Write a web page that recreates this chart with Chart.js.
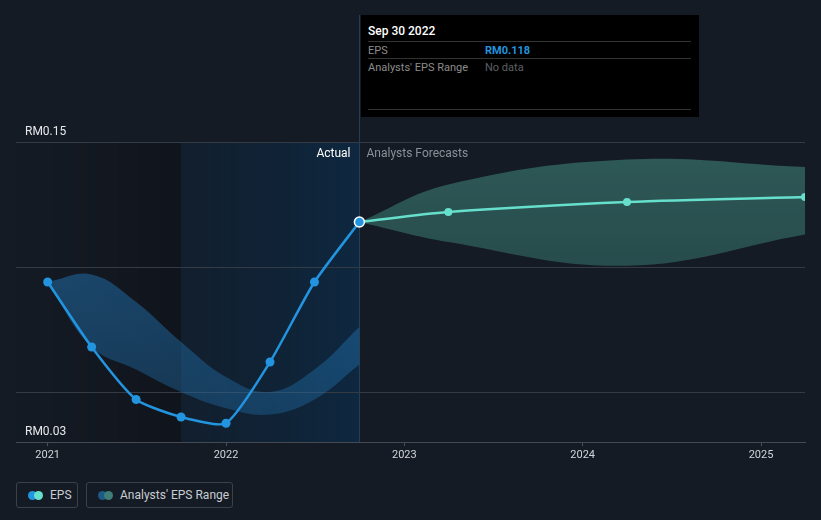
<!DOCTYPE html>
<html>
<head>
<meta charset="utf-8">
<script src="https://cdn.jsdelivr.net/npm/chart.js@4.4.0/dist/chart.umd.min.js"></script>
<style>
  html, body { margin: 0; padding: 0; background: #151b25; }
  body { width: 821px; height: 520px; position: relative; overflow: hidden; font-family: Roboto, "Noto Sans", sans-serif; }
  #wrap { position: absolute; left: 0; top: 0; width: 821px; height: 470px; }
  #tip { position: absolute; left: 361px; top: 15px; width: 338px; height: 102px; background: #000; color: #fff; }
  #tip .title { position: absolute; left: 7px; top: 9px; font-size: 12px; font-weight: 500; }
  #tip .sep { position: absolute; left: 7px; width: 323px; height: 1px; background: #333; }
  #tip .row { position: absolute; left: 7px; font-size: 11px; color: #8c8c8c; }
  #tip .val { position: absolute; left: 124px; font-size: 11px; }
  .legend { position: absolute; top: 482px; height: 26px; border: 1px solid #3c4048; border-radius: 3px; box-sizing: border-box; font-size: 12px; color: #c9ccd1; line-height: 25px; }
  .legend .dots { position: absolute; left: 11px; top: 8px; width: 16px; height: 9px; }
  .legend .dots span { position: absolute; top: 0; width: 9px; height: 9px; border-radius: 50%; }
  .legend .txt { position: absolute; }
</style>
</head>
<body>
<div id="wrap"><canvas id="chart"></canvas></div>

<div id="tip">
  <div class="title">Sep 30 2022</div>
  <div class="sep" style="top:26px"></div>
  <div class="row" style="top:29px">EPS</div>
  <div class="val" style="top:29px; color:#2394df; font-weight:700">RM0.118</div>
  <div class="sep" style="top:43px"></div>
  <div class="row" style="top:46px">Analysts' EPS Range</div>
  <div class="val" style="top:46px; color:#5d6066">No data</div>
  <div class="sep" style="top:94px"></div>
</div>

<div class="legend" style="left:16px; width:62px">
  <div class="dots"><span style="left:0; background:#2394df"></span><span style="left:6px; background:#66e0cd"></span></div>
  <div class="txt" style="left:33px">EPS</div>
</div>
<div class="legend" style="left:86px; width:147px">
  <div class="dots"><span style="left:0; background:#1d5a86"></span><span style="left:6px; background:#3e7d78"></span></div>
  <div class="txt" style="left:33px">Analysts' EPS Range</div>
</div>

<script>
// reported EPS, quarter ends
var actualDates = ['2020-12-31', '2021-03-31', '2021-06-30', '2021-09-30', '2021-12-31', '2022-03-31', '2022-06-30', '2022-09-30'];
var actualEps = [0.094, 0.068, 0.047, 0.040, 0.0375, 0.062, 0.094, 0.118];

// past analyst range
var pastHigh = [0.094, 0.097, 0.086, 0.070, 0.056, 0.050, 0.059, 0.076];
var pastLow = [0.094, 0.068, 0.059, 0.050, 0.0435, 0.041, 0.047, 0.061];

// forecasts
var forecastDates = ['2022-09-30', '2023-03-31', '2024-03-31', '2025-03-31'];
var forecastEps = [0.118, 0.122, 0.126, 0.128];
var forecastHigh = [0.118, 0.133, 0.143, 0.140];
var forecastLow = [0.118, 0.110, 0.1005, 0.113];

var yearTicks = [2021, 2022, 2023, 2024, 2025];
var yTicks = [0.03, 0.05, 0.10, 0.15, 0.20];
var yLabels = { '0.03': 'RM0.03', '0.15': 'RM0.15' };

function toYear(s) {
    var d = new Date(s + 'T00:00:00Z');
    var start = Date.UTC(d.getUTCFullYear(), 0, 1);
    var end = Date.UTC(d.getUTCFullYear() + 1, 0, 1);
    return d.getUTCFullYear() + (d - start) / (end - start) + 1 / 365;
}

function pts(dates, vals) {
    var out = [];
    for (var i = 0; i < dates.length; i++) {
        out.push({ x: toYear(dates[i]), y: vals[i] });
    }
    return out;
}

var xMin = toYear('2020-10-27');
var xMax = toYear('2025-03-31');
var bandStart = toYear('2021-09-30');
var nowX = toYear('2022-09-30');

function vGrad(ctx, top, bottom) {
    var chart = ctx.chart;
    var area = chart.chartArea;
    if (!area) return top;
    var g = chart.ctx.createLinearGradient(0, area.top + 120, 0, area.bottom);
    g.addColorStop(0, top);
    g.addColorStop(1, bottom);
    return g;
}

var backdrop = {
    id: 'backdrop',
    beforeDraw: function(chart) {
        var c = chart.ctx, a = chart.chartArea;
        var xs = chart.scales.x, ys = chart.scales.y;
        var top = ys.getPixelForValue(0.15);
        var x0 = a.left, x1 = xs.getPixelForValue(bandStart), x2 = xs.getPixelForValue(nowX);
        c.save();
        var g1 = c.createLinearGradient(x0, 0, x1, 0);
        g1.addColorStop(0, 'rgba(0,0,0,0)');
        g1.addColorStop(1, 'rgba(0,0,0,0.22)');
        c.fillStyle = g1;
        c.fillRect(x0, top, x1 - x0, a.bottom - top);
        var g2 = c.createLinearGradient(x1, 0, x2, 0);
        g2.addColorStop(0, 'rgba(16,34,52,0.6)');
        g2.addColorStop(1, 'rgba(14,40,64,1)');
        c.fillStyle = g2;
        c.fillRect(x1, top, x2 - x1, a.bottom - top);
        c.restore();
    },
    beforeDatasetsDraw: function(chart) {
        var c = chart.ctx, a = chart.chartArea;
        var x2 = Math.round(chart.scales.x.getPixelForValue(nowX)) + 0.5;
        var top = chart.scales.y.getPixelForValue(0.15);
        c.save();
        c.strokeStyle = '#233f58';
        c.lineWidth = 1;
        c.beginPath();
        c.moveTo(x2, 15);
        c.lineTo(x2, a.bottom);
        c.stroke();
        c.font = '12px Roboto';
        c.textBaseline = 'middle';
        c.textAlign = 'right';
        c.fillStyle = '#ffffff';
        c.fillText('Actual', x2 - 9, top + 12);
        c.textAlign = 'left';
        c.fillStyle = '#8b9097';
        c.fillText('Analysts Forecasts', x2 + 7, top + 12);
        c.restore();
    }
};

var ctx = document.getElementById('chart').getContext('2d');
var chart = new Chart(ctx, {
    type: 'line',
    data: {
        datasets: [
            {
                label: 'EPS',
                data: pts(actualDates, actualEps),
                borderColor: '#2394df',
                backgroundColor: '#2394df',
                borderWidth: 2.5,
                tension: 0.2,
                pointRadius: function(c) { return c.dataIndex === actualDates.length - 1 ? 5 : 4.5; },
                pointBorderColor: function(c) { return c.dataIndex === actualDates.length - 1 ? '#ffffff' : '#2394df'; },
                pointBorderWidth: function(c) { return c.dataIndex === actualDates.length - 1 ? 1.5 : 0; },
                fill: false
            },
            {
                label: 'Forecast',
                data: pts(forecastDates, forecastEps),
                borderColor: '#66e0cd',
                backgroundColor: '#66e0cd',
                borderWidth: 2.5,
                tension: 0.3,
                pointRadius: function(c) { return c.dataIndex === 0 ? 0 : 4; },
                pointBorderWidth: 0,
                fill: false
            },
            {
                label: 'Range high',
                data: pts(actualDates, pastHigh),
                borderWidth: 0,
                pointRadius: 0,
                tension: 0.4,
                fill: '+1',
                backgroundColor: function(c) { return vGrad(c, 'rgba(34,118,182,0.62)', 'rgba(34,118,182,0.32)'); }
            },
            {
                label: 'Range low',
                data: pts(actualDates, pastLow),
                borderWidth: 0,
                pointRadius: 0,
                tension: 0.4,
                fill: false
            },
            {
                label: 'Forecast high',
                data: pts(forecastDates, forecastHigh),
                borderWidth: 0,
                pointRadius: 0,
                tension: 0.4,
                fill: '+1',
                backgroundColor: function(c) { return vGrad(c, 'rgba(62,130,120,0.62)', 'rgba(62,130,120,0.28)'); }
            },
            {
                label: 'Forecast low',
                data: pts(forecastDates, forecastLow),
                borderWidth: 0,
                pointRadius: 0,
                tension: 0.4,
                fill: false
            }
        ]
    },
    options: {
        responsive: true,
        maintainAspectRatio: false,
        animation: false,
        layout: { padding: { left: 16, right: 16, top: 17, bottom: 0 } },
        plugins: {
            legend: { display: false },
            tooltip: { enabled: false }
        },
        scales: {
            x: {
                type: 'linear',
                min: xMin,
                max: xMax,
                afterBuildTicks: function(s) { s.ticks = yearTicks.map(function(v) { return { value: v }; }); },
                afterFit: function(s) { s.height = 28; },
                grid: { drawOnChartArea: false, drawTicks: true, tickLength: 4, color: '#4a4f58' },
                border: { display: true, color: '#444952' },
                ticks: {
                    color: '#d2d5da',
                    padding: 3,
                    font: { family: 'Roboto', size: 11 },
                    maxRotation: 0,
                    callback: function(v) { return String(v); }
                }
            },
            y: {
                min: 0.03,
                max: 0.20,
                afterBuildTicks: function(s) { s.ticks = yTicks.map(function(v) { return { value: v }; }); },
                afterFit: function(s) { s.width = 0; },
                grid: {
                    drawTicks: false,
                    color: function(c) {
                        var v = c.tick ? c.tick.value : null;
                        return (v === 0.2 || v === 0.03) ? 'rgba(0,0,0,0)' : '#353b45';
                    }
                },
                border: { display: false },
                ticks: {
                    mirror: true,
                    padding: 9,
                    labelOffset: -10,
                    color: '#e6e8eb',
                    font: { family: 'Roboto', size: 12 },
                    callback: function(v) { return yLabels[v.toFixed(2)] || ''; }
                }
            }
        }
    },
    plugins: [backdrop]
});
</script>
</body>
</html>
